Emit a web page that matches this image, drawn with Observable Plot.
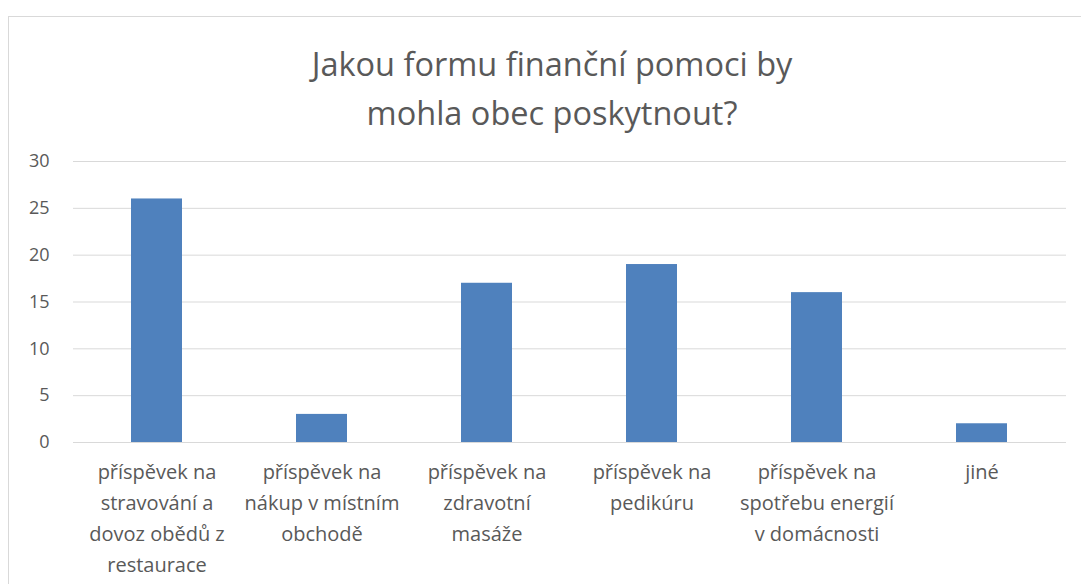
<!DOCTYPE html>
<html><head><meta charset="utf-8">
<script src="https://cdn.jsdelivr.net/npm/d3@7"></script>
<script src="https://cdn.jsdelivr.net/npm/@observablehq/plot@0.6"></script>
<style>
body{margin:0;background:#fff;overflow:hidden}
#frame{position:absolute;left:8px;top:16px;width:1100px;height:600px;border:1px solid #d9d9d9;box-sizing:border-box}
#chart{position:absolute;left:0;top:0}
</style></head>
<body><div id="frame"></div><div id="chart"></div>
<script>
const title = ["Jakou formu finanční pomoci by", "mohla obec poskytnout?"];
const categories = [
  "příspěvek na\nstravování a\ndovoz obědů z\nrestaurace",
  "příspěvek na\nnákup v místním\nobchodě",
  "příspěvek na\nzdravotní\nmasáže",
  "příspěvek na\npedikúru",
  "příspěvek na\nspotřebu energií\nv domácnosti",
  "jiné"
];
const values = [26, 3, 17, 19, 16, 2];
const yTicks = [0, 5, 10, 15, 20, 25, 30];
const data = categories.map((c, i) => ({category: c, value: values[i]}));

const chart = Plot.plot({
  width: 1081, height: 584,
  marginLeft: 73, marginRight: 15, marginTop: 161, marginBottom: 142,
  style: {fontFamily: "'Open Sans', sans-serif", color: "#595959", background: "transparent"},
  x: {domain: categories, paddingInner: 0.69, paddingOuter: 0.345, label: null},
  y: {domain: [0, 30], label: null},
  marks: [
    Plot.gridY(yTicks, {stroke: "#d9d9d9", strokeOpacity: 1}),
    Plot.barY(data, {x: "category", y: "value", fill: "#4f81bd"}),
    Plot.axisY(yTicks, {tickSize: 0, tickPadding: 24, fontSize: 18, fill: "#595959", label: null}),
    Plot.axisX({tickSize: 0, tickPadding: 14, fontSize: 20, lineHeight: 1.55, fill: "#595959", lineAnchor: "top", label: null}),
    Plot.text([title.join("\n")], {frameAnchor: "top", dx: -18, dy: -120, fontSize: 32.5, lineHeight: 1.5, fill: "#595959", lineAnchor: "top"})
  ]
});
document.getElementById("chart").appendChild(chart);
</script></body></html>
